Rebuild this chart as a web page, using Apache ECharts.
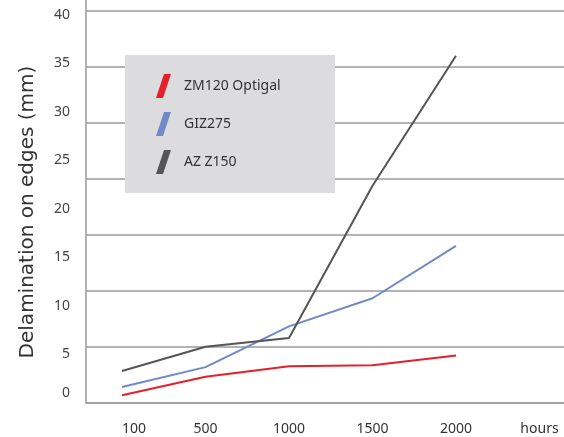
<!DOCTYPE html>
<html>
<head>
<meta charset="utf-8">
<script src="https://cdn.jsdelivr.net/npm/echarts@6/dist/echarts.min.js"></script>
<style>html,body{margin:0;padding:0;background:#fff}#main{width:564px;height:437px}</style>
</head>
<body>
<div id="main"></div>
<script>
var categories = ['100', '500', '1000', '1500', '2000', 'hours'];
var zm120 = [0.8, 2.7, 3.8, 3.9, 4.9];
var giz275 = [1.65, 3.7, 7.9, 10.8, 16.2];
var azz150 = [3.3, 5.8, 6.7, 22.4, 35.8];
var yTicks = [0, 40, 5];

var chart = echarts.init(document.getElementById('main'), null, {renderer: 'canvas'});
var font = 'Noto Sans';
var gridColor = '#9a9a9a';

var option = {
  animation: false,
  textStyle: {fontFamily: font},
  grid: [
    {left: 86, right: 0, top: 0, bottom: 34, containLabel: false},
    {left: 122, right: 24.5, top: 15, bottom: 34, containLabel: false}
  ],
  xAxis: [
    {
      gridIndex: 0, type: 'value', min: 0, max: 1,
      axisLine: {show: true, lineStyle: {color: gridColor, width: 1.5}},
      axisTick: {show: false}, axisLabel: {show: false}, splitLine: {show: false}
    },
    {
      gridIndex: 1, type: 'category', data: categories, boundaryGap: false,
      axisLine: {show: false}, axisTick: {show: false}, splitLine: {show: false},
      axisLabel: {
        margin: 19, fontSize: 14, color: '#333', interval: 0,
        formatter: function (v, i) { return i === 0 ? '{a|' + v + '}' : v; },
        rich: {a: {padding: [0, 0, 0, 24], fontSize: 14, color: '#333', fontFamily: font}}
      }
    }
  ],
  yAxis: [
    {
      gridIndex: 0, type: 'value', min: 0, max: 403 / 56, interval: 1,
      axisLine: {show: true, lineStyle: {color: gridColor, width: 1.5}},
      axisTick: {show: false}, axisLabel: {show: false},
      splitLine: {show: true, showMaxLine: false, lineStyle: {color: gridColor, width: 1.5}}
    },
    {
      gridIndex: 1, type: 'value', min: yTicks[0], max: yTicks[1], interval: yTicks[2],
      offset: 36,
      axisLine: {show: false}, axisTick: {show: false}, splitLine: {show: false},
      axisLabel: {
        margin: 16, fontSize: 14, color: '#444',
        formatter: function (v) { return v === 0 ? '{z|0}' : String(v); },
        rich: {z: {padding: [0, 0, 20, 0], fontSize: 14, color: '#444', fontFamily: font}}
      }
    }
  ],
  graphic: [
    {
      type: 'rect', z: 1, shape: {x: 125, y: 55, width: 210, height: 138},
      style: {fill: '#dcdcde'}
    },
    {
      type: 'text', z: 1, x: 28, y: 212, rotation: Math.PI / 2,
      style: {
        text: 'Delamination on edges (mm)', fill: '#333',
        font: '20px "DejaVu Sans"', align: 'center', verticalAlign: 'middle'
      }
    }
  ],
  legend: {
    orient: 'vertical', left: 156, top: 74, padding: 0,
    itemWidth: 15, itemHeight: 24, itemGap: 14,
    icon: 'path://M8,0 L15,0 L7,24 L0,24 Z',
    textStyle: {fontSize: 14, color: '#333', padding: [0, 0, 0, 8]},
    data: ['ZM120 Optigal', 'GIZ275', 'AZ Z150']
  },
  series: [
    {name: 'ZM120 Optigal', type: 'line', xAxisIndex: 1, yAxisIndex: 1, data: zm120,
     symbol: 'none', color: '#e5202b', lineStyle: {width: 2}},
    {name: 'GIZ275', type: 'line', xAxisIndex: 1, yAxisIndex: 1, data: giz275,
     symbol: 'none', color: '#6e8bc8', lineStyle: {width: 2}},
    {name: 'AZ Z150', type: 'line', xAxisIndex: 1, yAxisIndex: 1, data: azz150,
     symbol: 'none', color: '#555555', lineStyle: {width: 2}}
  ]
};
chart.setOption(option);
</script>
</body>
</html>
